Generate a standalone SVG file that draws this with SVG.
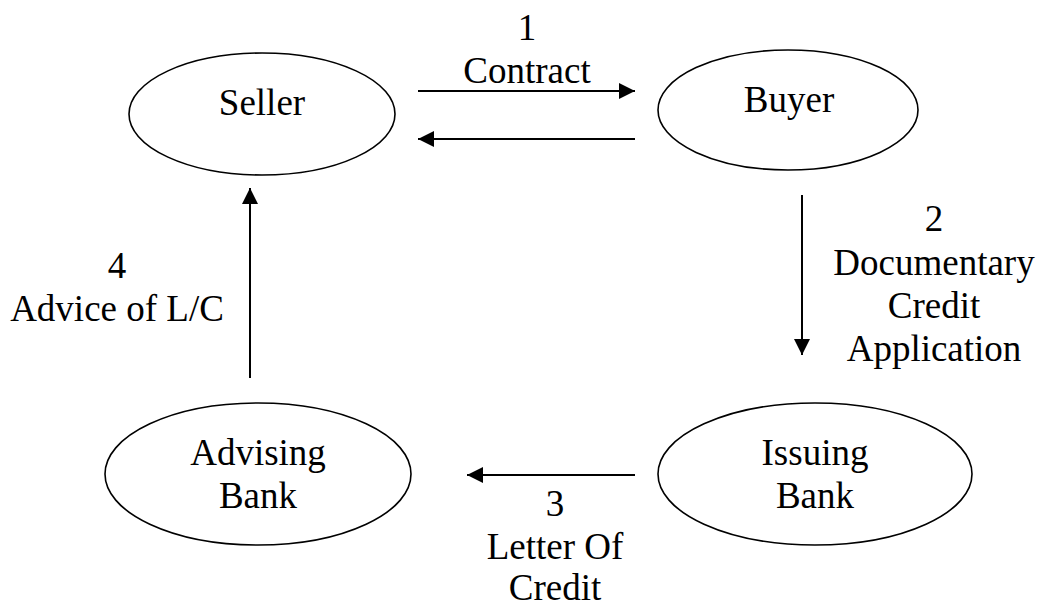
<svg xmlns="http://www.w3.org/2000/svg" width="1037" height="606" viewBox="0 0 1037 606">
<defs>
<style>
.n{fill:none;stroke:#000;stroke-width:1.6}
.t{font-family:"Liberation Serif","Times New Roman",serif;font-size:37px;fill:#000;text-anchor:middle}
.c{stroke:#000;stroke-width:2;fill:none}
</style>
<marker id="ah" viewBox="0 0 10 10" refX="10" refY="5" markerWidth="17" markerHeight="16" markerUnits="userSpaceOnUse" orient="auto">
<path d="M0,0 L10,5 L0,10 z" fill="#000"/>
</marker>
</defs>
<rect width="1037" height="606" fill="#fff"/>
<g id="seller">
<ellipse class="n" cx="262" cy="114" rx="133" ry="61"/>
<text class="t" x="262" y="115">Seller</text>
</g>
<g id="buyer">
<ellipse class="n" cx="788" cy="110" rx="130" ry="60"/>
<text class="t" x="789" y="112">Buyer</text>
</g>
<g id="advising">
<ellipse class="n" cx="258" cy="474" rx="153" ry="71"/>
<text class="t" x="258" y="465">Advising</text>
<text class="t" x="258" y="508">Bank</text>
</g>
<g id="issuing">
<ellipse class="n" cx="815" cy="474" rx="157" ry="71"/>
<text class="t" x="815" y="465">Issuing</text>
<text class="t" x="815" y="508">Bank</text>
</g>
<g id="connectors">
<line class="c" x1="418" y1="91" x2="635" y2="91" marker-end="url(#ah)"/>
<line class="c" x1="635" y1="139" x2="418" y2="139" marker-end="url(#ah)"/>
<line class="c" x1="802" y1="195" x2="802" y2="355" marker-end="url(#ah)"/>
<line class="c" x1="635" y1="475" x2="467" y2="475" marker-end="url(#ah)"/>
<line class="c" x1="250" y1="378" x2="250" y2="188" marker-end="url(#ah)"/>
</g>
<g id="labels">
<text class="t" x="527" y="40">1</text>
<text class="t" x="527" y="83">Contract</text>
<text class="t" x="934" y="231">2</text>
<text class="t" x="934" y="275">Documentary</text>
<text class="t" x="934" y="318">Credit</text>
<text class="t" x="934" y="361">Application</text>
<text class="t" x="555" y="516">3</text>
<text class="t" x="555" y="559">Letter Of</text>
<text class="t" x="555" y="600">Credit</text>
<text class="t" x="117" y="278">4</text>
<text class="t" x="117" y="321">Advice of L/C</text>
</g>
</svg>
